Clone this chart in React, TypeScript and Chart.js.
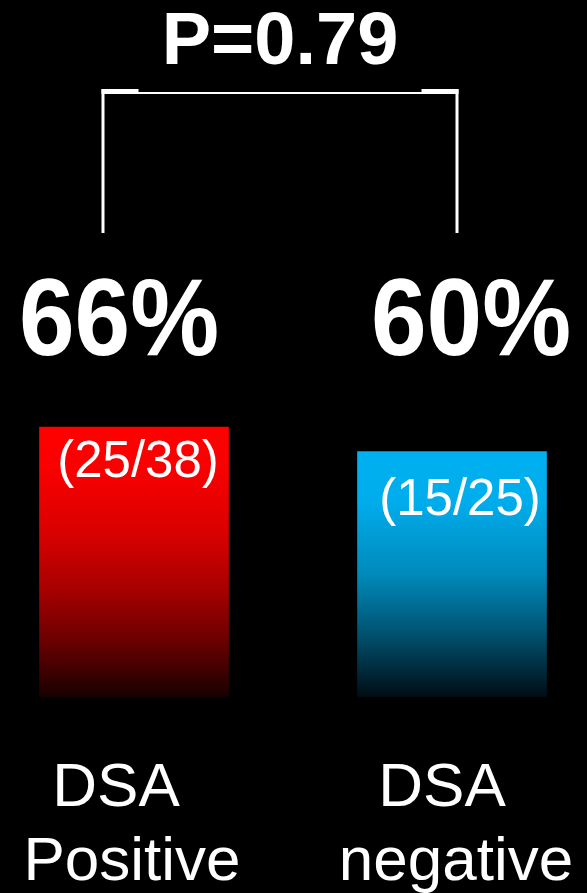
import { useEffect, useRef } from 'react';
import { Chart, registerables } from 'chart.js';

Chart.register(...registerables);

// ---- data ----
const categories: string[][] = [['DSA', 'Positive'], ['DSA', 'negative']];
const percentValues: number[] = [66, 60];
const percentLabels: string[] = ['66%', '60%'];
const fractionLabels: string[] = ['(25/38)', '(15/25)'];
const pValueLabel = 'P=0.79';

// ---- styles ----
const FONT = '"Liberation Sans", Arial, Helvetica, sans-serif';
const gradientStops: [number, string][][] = [
  [[0, '#ff0000'], [0.15, '#fa0000'], [0.4, '#d80000'], [0.6, '#a80000'], [0.8, '#680000'], [1, '#180000']],
  [[0, '#00b0f0'], [0.2, '#00adec'], [0.5, '#008abb'], [0.75, '#00506e'], [1, '#000d14']],
];

const overlayPlugin = {
  id: 'overlay',
  beforeDraw(chart: any) {
    const c = chart.ctx;
    c.save();
    c.fillStyle = '#000';
    c.fillRect(0, 0, chart.width, chart.height);
    c.restore();
  },
  afterDatasetsDraw(chart: any) {
    const c = chart.ctx;
    const pts = chart.getDatasetMeta(0).data;
    const area = chart.chartArea;
    c.save();
    c.fillStyle = '#fff';
    c.textAlign = 'center';
    c.textBaseline = 'alphabetic';

    // big percentages (slightly stretched vertically)
    c.font = `bold 100px ${FONT}`;
    const pctDx = [-15, 19];
    pts.forEach((p: any, i: number) => {
      c.save();
      c.translate(p.x + pctDx[i], area.top + 67);
      c.scale(1, 1.1);
      c.fillText(percentLabels[i], 0, 0);
      c.restore();
    });

    // fractions inside bars
    c.font = `51px ${FONT}`;
    const fracDx = [4, 8];
    const fracDy = [50, 63];
    pts.forEach((p: any, i: number) => c.fillText(fractionLabels[i], p.x + fracDx[i], p.y + fracDy[i]));

    // category labels
    c.font = `62px ${FONT}`;
    const catDx = [[-18, -2], [-10, 4]];
    pts.forEach((p: any, i: number) =>
      categories[i].forEach((line, j) => c.fillText(line, p.x + catDx[i][j], area.bottom + 109 + j * 74))
    );

    // bracket
    const leftX = pts[0].x - 31;
    const rightX = pts[1].x + 5;
    const topY = 89;
    const botY = 233;
    c.fillRect(leftX - 1.5, topY, 3, botY - topY);
    c.fillRect(rightX - 1.5, topY, 3, botY - topY);
    c.fillRect(leftX - 1.5, topY + 3, rightX - leftX + 3, 2);
    c.fillRect(leftX - 1.5, topY, 37, 3);
    c.fillRect(rightX + 1.5 - 37, topY, 37, 3);

    // p-value
    c.font = `bold 74px ${FONT}`;
    c.fillText(pValueLabel, (pts[0].x + pts[1].x) / 2 - 13, 64);
    c.restore();
  },
};

export default function App() {
  const ref = useRef<HTMLCanvasElement | null>(null);

  useEffect(() => {
    if (!ref.current) return;
    const chart = new Chart(ref.current, {
      type: 'bar',
      data: {
        labels: categories.map((c) => c.join(' ')),
        datasets: [
          {
            data: percentValues,
            barThickness: 189,
            borderWidth: 0,
            clip: false as any,
            backgroundColor: (ctx: any) => {
              const chart = ctx.chart;
              const i = ctx.dataIndex;
              if (!chart.chartArea || i === undefined) return gradientStops[0][0][1];
              const y = chart.scales.y;
              const top = y.getPixelForValue(percentValues[i]);
              const bottom = y.getPixelForValue(0);
              const g = chart.ctx.createLinearGradient(0, top, 0, bottom);
              gradientStops[i].forEach(([o, col]) => g.addColorStop(o, col));
              return g;
            },
          },
        ],
      },
      options: {
        responsive: false,
        animation: false,
        devicePixelRatio: 1,
        layout: { padding: { left: 134, right: 135, top: 288, bottom: 196 } },
        plugins: { legend: { display: false }, tooltip: { enabled: false } },
        scales: {
          x: { type: 'category', offset: false, display: false, grid: { offset: false } },
          y: { min: 0, max: 100, display: false },
        },
      },
      plugins: [overlayPlugin],
    });
    return () => chart.destroy();
  }, []);

  return (
    <div style={{ position: 'fixed', left: 0, top: 0, width: 587, height: 893, background: '#000' }}>
      <canvas ref={ref} width={587} height={893} style={{ display: 'block' }} />
    </div>
  );
}
